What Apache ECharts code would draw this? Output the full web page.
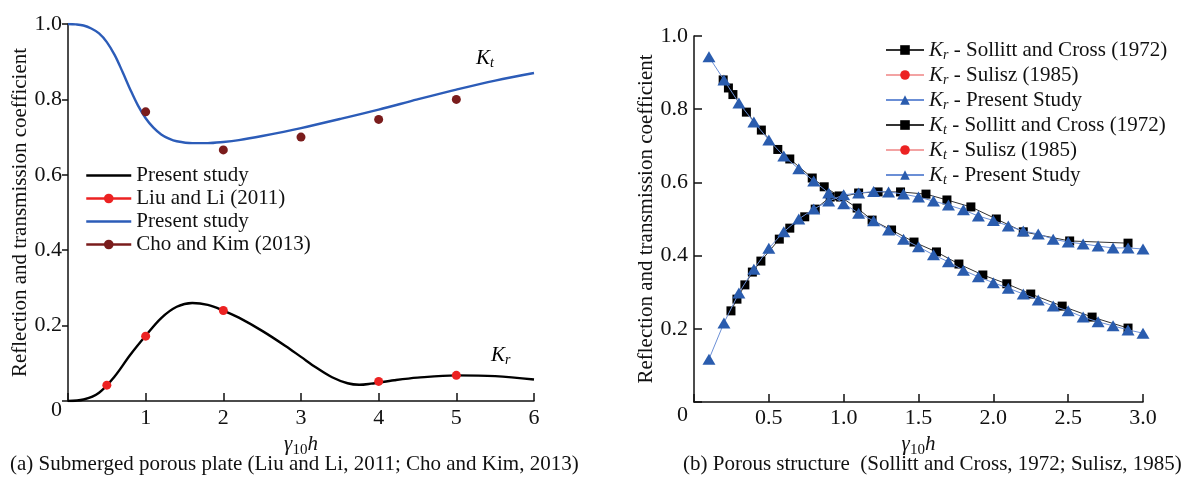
<!DOCTYPE html>
<html><head><meta charset="utf-8">
<script src="https://cdn.jsdelivr.net/npm/echarts@6/dist/echarts.min.js"></script>
<style>html,body{margin:0;padding:0;background:#fff}#c{width:1193px;height:478px}</style>
</head><body><div id="c"></div>
<script>
// ---------- (a) Submerged porous plate ----------
const ktCurveX = [0, 0.1, 0.2, 0.3, 0.4, 0.5, 0.6, 0.7, 0.8, 0.9, 1.0, 1.1, 1.2, 1.3, 1.4, 1.6, 1.8, 2.0, 2.2, 2.5, 3.0, 3.5, 4.0, 4.5, 5.0, 5.5, 6.0];
const ktCurveY = [1.0, 0.999, 0.996, 0.988, 0.975, 0.952, 0.918, 0.874, 0.827, 0.784, 0.75, 0.725, 0.707, 0.696, 0.689, 0.684, 0.684, 0.687, 0.692, 0.703, 0.724, 0.748, 0.773, 0.8, 0.826, 0.85, 0.87];
const krCurveX = [0, 0.2, 0.4, 0.6, 0.8, 1.0, 1.2, 1.4, 1.6, 1.8, 2.0, 2.2, 2.5, 2.8, 3.0, 3.2, 3.4, 3.6, 3.75, 3.9, 4.2, 4.5, 5.0, 5.5, 6.0];
const krCurveY = [0, 0.004, 0.022, 0.065, 0.122, 0.173, 0.22, 0.25, 0.26, 0.255, 0.24, 0.221, 0.186, 0.146, 0.117, 0.088, 0.063, 0.047, 0.043, 0.046, 0.055, 0.062, 0.068, 0.066, 0.057];
const liuX = [0.5, 1, 2, 4, 5];
const liuY = [0.042, 0.172, 0.24, 0.052, 0.068];
const choX = [1, 2, 3, 4, 5];
const choY = [0.767, 0.666, 0.70, 0.747, 0.80];

// ---------- (b) Porous structure ----------
const presentX = [0.1, 0.2, 0.3, 0.4, 0.5, 0.6, 0.7, 0.8, 0.9, 1.0, 1.1, 1.2, 1.3, 1.4, 1.5, 1.6, 1.7, 1.8, 1.9, 2.0, 2.1, 2.2, 2.3, 2.4, 2.5, 2.6, 2.7, 2.8, 2.9, 3.0];
const krPresentY = [0.943, 0.88, 0.817, 0.765, 0.716, 0.672, 0.637, 0.604, 0.571, 0.542, 0.516, 0.495, 0.47, 0.445, 0.424, 0.402, 0.383, 0.36, 0.342, 0.326, 0.311, 0.295, 0.279, 0.262, 0.249, 0.232, 0.219, 0.208, 0.197, 0.188];
const ktPresentY = [0.117, 0.216, 0.298, 0.363, 0.42, 0.465, 0.50, 0.527, 0.549, 0.566, 0.571, 0.575, 0.574, 0.568, 0.56, 0.549, 0.538, 0.525, 0.508, 0.496, 0.481, 0.467, 0.459, 0.445, 0.437, 0.432, 0.426, 0.421, 0.421, 0.418];
const krSollittX = [0.195, 0.23, 0.26, 0.35, 0.45, 0.56, 0.64, 0.79, 0.87, 0.97, 1.09, 1.19, 1.32, 1.47, 1.62, 1.77, 1.93, 2.09, 2.25, 2.46, 2.66, 2.9];
const krSollittY = [0.88, 0.858, 0.84, 0.792, 0.743, 0.69, 0.664, 0.612, 0.588, 0.563, 0.53, 0.497, 0.47, 0.437, 0.41, 0.377, 0.347, 0.323, 0.295, 0.262, 0.232, 0.202];
const ktSollittX = [0.247, 0.287, 0.34, 0.39, 0.447, 0.57, 0.64, 0.74, 0.81, 0.91, 0.98, 1.1, 1.23, 1.38, 1.55, 1.69, 1.85, 2.02, 2.2, 2.51, 2.9];
const ktSollittY = [0.249, 0.281, 0.32, 0.355, 0.385, 0.445, 0.475, 0.506, 0.527, 0.56, 0.56, 0.571, 0.574, 0.574, 0.568, 0.552, 0.533, 0.5, 0.465, 0.44, 0.434];
const sulisz = []; // no visible points in the figure

const captionA = '(a) Submerged porous plate (Liu and Li, 2011; Cho and Kim, 2013)';
const captionB = '(b) Porous structure  (Sollitt and Cross, 1972; Sulisz, 1985)';
const yTitle = 'Reflection and transmission coefficient';

const zip = (xs, ys) => xs.map((x, i) => [x, ys[i]]);
const FONT = '"Liberation Serif","Times New Roman",serif';
const FS = 21;
const TFS = 22;
const subRich = {
  k: { fontFamily: FONT, fontSize: FS, fontStyle: 'italic', color: '#111' },
  s: { fontFamily: FONT, fontSize: 14, fontStyle: 'italic', color: '#111', padding: [10, 0, 0, 0] }
};
const gammaName = '{g|γ}{n|10}{h|h}';
const gammaRich = {
  g: { fontFamily: FONT, fontSize: FS, fontStyle: 'italic', color: '#111' },
  n: { fontFamily: FONT, fontSize: 15, color: '#111', padding: [11, 0, 0, 0] },
  h: { fontFamily: FONT, fontSize: FS, fontStyle: 'italic', color: '#111' }
};

const axisCommon = {
  axisLine: { show: true, lineStyle: { color: '#111', width: 1.5 } },
  splitLine: { show: false },
  axisLabel: { fontFamily: FONT, fontSize: TFS, color: '#111' }
};

const chart = echarts.init(document.getElementById('c'), null, { renderer: 'canvas' });
const option = {
  backgroundColor: '#fff',
  animation: false,
  textStyle: { fontFamily: FONT },
  grid: [
    { left: 68, right: 659, top: 24, bottom: 77 },
    { left: 694, right: 50, top: 36, bottom: 76 }
  ],
  xAxis: [
    Object.assign({}, axisCommon, {
      gridIndex: 0, type: 'value', min: 0, max: 6, interval: 1,
      axisTick: { show: true, inside: true, length: 8, lineStyle: { color: '#111', width: 1.5 } },
      axisLabel: Object.assign({}, axisCommon.axisLabel, { margin: 6, formatter: v => v === 0 ? '' : String(v) }),
      name: gammaName, nameLocation: 'middle', nameGap: 29,
      nameTextStyle: { fontFamily: FONT, fontSize: FS, rich: gammaRich }
    }),
    Object.assign({}, axisCommon, {
      gridIndex: 1, type: 'value', min: 0, max: 3.0, interval: 0.5,
      axisTick: { show: true, inside: true, length: 8, lineStyle: { color: '#111', width: 1.5 } },
      axisLabel: Object.assign({}, axisCommon.axisLabel, { margin: 5, formatter: v => v === 0 ? '' : v.toFixed(1) }),
      name: gammaName, nameLocation: 'middle', nameGap: 26,
      nameTextStyle: { fontFamily: FONT, fontSize: FS, rich: gammaRich }
    })
  ],
  yAxis: [
    Object.assign({}, axisCommon, {
      gridIndex: 0, type: 'value', min: 0, max: 1.0, interval: 0.2,
      axisTick: { show: true, inside: false, length: 6, lineStyle: { color: '#111', width: 1.5 } },
      axisLabel: Object.assign({}, axisCommon.axisLabel, {
        margin: 6,
        formatter: v => v === 0 ? '{z|0}' : v.toFixed(1),
        rich: { z: { fontFamily: FONT, fontSize: TFS, color: '#111', padding: [18, 0, 0, 0] } }
      }),
      name: yTitle, nameLocation: 'middle', nameGap: 37, nameRotate: 90,
      nameTextStyle: { fontFamily: FONT, fontSize: FS, color: '#111' }
    }),
    Object.assign({}, axisCommon, {
      gridIndex: 1, type: 'value', min: 0, max: 1.0, interval: 0.2,
      axisTick: { show: true, inside: true, length: 8, lineStyle: { color: '#111', width: 1.5 } },
      axisLabel: Object.assign({}, axisCommon.axisLabel, {
        margin: 6,
        formatter: v => v === 0 ? '{z|0}' : v.toFixed(1),
        rich: { z: { fontFamily: FONT, fontSize: TFS, color: '#111', padding: [26, 0, 0, 0] } }
      }),
      name: yTitle, nameLocation: 'middle', nameGap: 36, nameRotate: 90,
      nameTextStyle: { fontFamily: FONT, fontSize: FS, color: '#111' }
    })
  ],
  legend: [
    {
      orient: 'vertical', left: 85, top: 165, padding: 0, itemWidth: 45, itemHeight: 12, itemGap: 2,
      textStyle: { fontFamily: FONT, fontSize: FS, color: '#111' },
      formatter: n => ({ 'PS-Kr': 'Present study', 'PS-Kt': 'Present study' }[n] || n),
      data: [
        { name: 'PS-Kr', itemStyle: { opacity: 0 }, lineStyle: { width: 2.5 } },
        { name: 'Liu and Li (2011)', lineStyle: { opacity: 1, width: 2.5 } },
        { name: 'PS-Kt', itemStyle: { opacity: 0 }, lineStyle: { width: 2.5 } },
        { name: 'Cho and Kim (2013)', lineStyle: { opacity: 1, width: 2.5 } }
      ]
    },
    {
      orient: 'vertical', left: 885, top: 38, padding: 0, itemWidth: 38, itemHeight: 12, itemGap: 1,
      textStyle: {
        fontFamily: FONT, fontSize: FS, color: '#111', lineHeight: 22,
        rich: {
          k: { fontFamily: FONT, fontSize: FS, fontStyle: 'italic', color: '#111', lineHeight: 22 },
          s: { fontFamily: FONT, fontSize: 14, fontStyle: 'italic', color: '#111', padding: [10, 0, 0, 0], lineHeight: 22 },
          t: { fontFamily: FONT, fontSize: FS, color: '#111', lineHeight: 22 }
        }
      },
      formatter: n => n.replace(/^K(r|t) - (.*)$/, '{k|K}{s|$1}{t| - $2}'),
      data: [
        'Kr - Sollitt and Cross (1972)', 'Kr - Sulisz (1985)', 'Kr - Present Study',
        'Kt - Sollitt and Cross (1972)', 'Kt - Sulisz (1985)', 'Kt - Present Study'
      ]
    }
  ],
  series: [
    // (a)
    { name: 'PS-Kr', type: 'line', xAxisIndex: 0, yAxisIndex: 0, data: zip(krCurveX, krCurveY), smooth: 0.35, symbol: 'none', color: '#000', lineStyle: { color: '#000', width: 2.4 }, z: 3 },
    { name: 'PS-Kt', type: 'line', xAxisIndex: 0, yAxisIndex: 0, data: zip(ktCurveX, ktCurveY), smooth: 0.35, symbol: 'none', color: '#2c5cb8', lineStyle: { color: '#2c5cb8', width: 2.4 }, z: 3 },
    { name: 'Liu and Li (2011)', type: 'line', xAxisIndex: 0, yAxisIndex: 0, data: zip(liuX, liuY), symbol: 'circle', symbolSize: 9, color: '#ec2222', itemStyle: { color: '#ec2222' }, lineStyle: { color: '#ec2222', opacity: 0, width: 0 }, z: 4 },
    { name: 'Cho and Kim (2013)', type: 'line', xAxisIndex: 0, yAxisIndex: 0, data: zip(choX, choY), symbol: 'circle', symbolSize: 9, color: '#7a1c1c', itemStyle: { color: '#7a1c1c' }, lineStyle: { color: '#7a1c1c', opacity: 0, width: 0 }, z: 4 },
    // (b)
    { name: 'Kr - Sollitt and Cross (1972)', type: 'line', xAxisIndex: 1, yAxisIndex: 1, data: zip(krSollittX, krSollittY), symbol: 'rect', symbolSize: 9, showAllSymbol: true, color: '#000', itemStyle: { color: '#000' }, lineStyle: { color: '#333', width: 1 }, z: 3 },
    { name: 'Kt - Sollitt and Cross (1972)', type: 'line', xAxisIndex: 1, yAxisIndex: 1, data: zip(ktSollittX, ktSollittY), symbol: 'rect', symbolSize: 9, showAllSymbol: true, color: '#000', itemStyle: { color: '#000' }, lineStyle: { color: '#333', width: 1 }, z: 3 },
    { name: 'Kr - Sulisz (1985)', type: 'line', xAxisIndex: 1, yAxisIndex: 1, data: sulisz, symbol: 'circle', symbolSize: 9, color: '#ec2222', itemStyle: { color: '#ec2222' }, lineStyle: { color: '#f3a3a3', width: 1 } },
    { name: 'Kt - Sulisz (1985)', type: 'line', xAxisIndex: 1, yAxisIndex: 1, data: sulisz, symbol: 'circle', symbolSize: 9, color: '#ec2222', itemStyle: { color: '#ec2222' }, lineStyle: { color: '#f3a3a3', width: 1 } },
    { name: 'Kr - Present Study', type: 'line', xAxisIndex: 1, yAxisIndex: 1, data: zip(presentX, krPresentY), symbol: 'triangle', symbolSize: [13, 11], showAllSymbol: true, color: '#2a5cae', itemStyle: { color: '#2a5cae' }, lineStyle: { color: '#6b8fd6', width: 1 }, z: 4 },
    { name: 'Kt - Present Study', type: 'line', xAxisIndex: 1, yAxisIndex: 1, data: zip(presentX, ktPresentY), symbol: 'triangle', symbolSize: [13, 11], showAllSymbol: true, color: '#2a5cae', itemStyle: { color: '#2a5cae' }, lineStyle: { color: '#6b8fd6', width: 1 }, z: 4 }
  ],
  graphic: [
    { type: 'text', left: 476, top: 48, style: { text: '{k|K}{s|t}', rich: subRich } },
    { type: 'text', left: 491, top: 345, style: { text: '{k|K}{s|r}', rich: subRich } },
    { type: 'text', left: 10, top: 454, style: { text: captionA, fontFamily: FONT, fontSize: FS, fill: '#111' } },
    { type: 'text', left: 683, top: 454, style: { text: captionB, fontFamily: FONT, fontSize: FS, fill: '#111' } }
  ]
};
chart.setOption(option);
</script>
</body></html>
